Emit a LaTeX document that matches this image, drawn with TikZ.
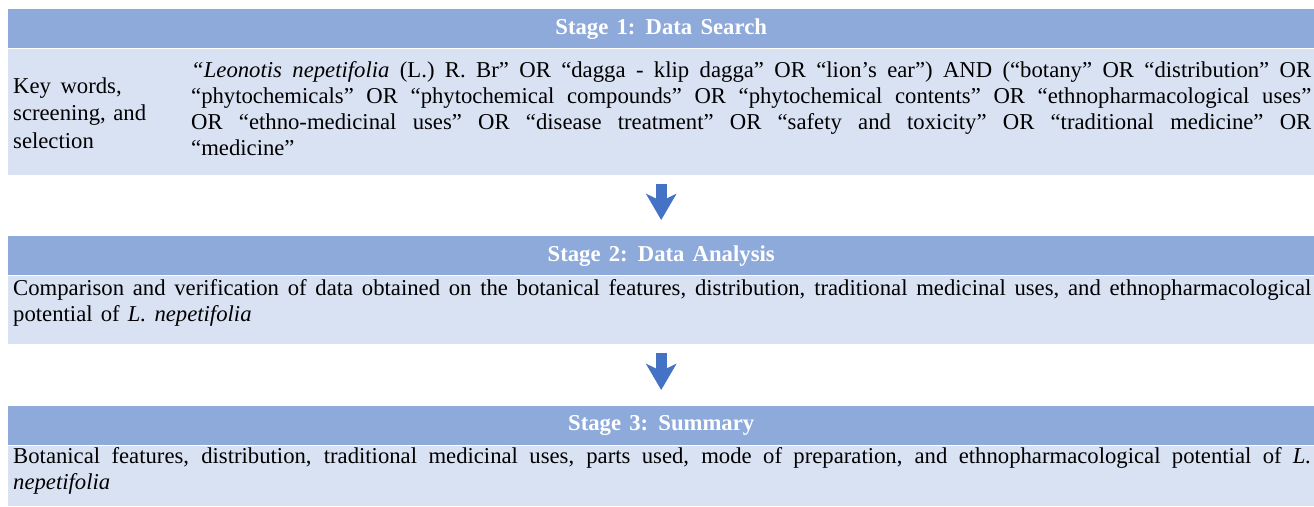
\documentclass[tikz,border=0pt]{standalone}
\usepackage{fontspec}
\setmainfont{Liberation Serif}[WordSpace={1.45,1,2.2}]
\newfontfamily\headfont{Liberation Serif}[WordSpace=1.45]
\usetikzlibrary{arrows.meta,positioning}
\definecolor{headblue}{HTML}{8EAADB}
\definecolor{bodyblue}{HTML}{D9E2F3}
\definecolor{arrowblue}{HTML}{4472C4}

\begin{document}
\begin{tikzpicture}[x=1pt, y=-1pt,
    stagebar/.style={fill=headblue, minimum width=1306pt, minimum height=39pt, inner sep=0pt, anchor=north west, text=white, font=\headfont\bfseries\fontsize{22.7}{26}\selectfont},
    cell/.style={fill=bodyblue, minimum width=1306pt, inner sep=0pt, anchor=north},
    txt/.style={inner sep=0pt, anchor=base west, align=justify, font=\fontsize{22.7}{26}\selectfont},
    flow/.style={line width=11pt, arrowblue, -{Stealth[length=26pt, width=30pt, inset=7pt]}, shorten <=9pt, shorten >=16pt}
  ]
    \useasboundingbox (0,0) rectangle (1314,506);

    % stage 1
    \node[stagebar] (h1) at (8,9) {Stage 1: Data Search};
    \node[cell, minimum height=126pt, below=0pt of h1] (b1) {};
    \node[txt, text width=145pt, align=left, font=\fontsize{22.7}{27.5}\selectfont] (kw) at (13,93)
      {Key\hspace{2pt} words,\\ screening, and\\ selection};
    \node[txt, text width=1120pt] (kq) at (191,77)
      {\textit{“Leonotis nepetifolia} (L.) R. Br” OR “dagga - klip dagga” OR “lion’s ear”) AND (“botany” OR “distribution” OR\linebreak
       “phytochemicals” OR “phytochemical compounds” OR “phytochemical contents” OR “ethnopharmacological uses”\linebreak
       OR “ethno-medicinal uses” OR “disease treatment” OR “safety and toxicity” OR “traditional medicine” OR\linebreak
       “medicine”};

    % stage 2
    \node[stagebar] (h2) at (8,236) {Stage 2: Data Analysis};
    \node[cell, minimum height=68pt, below=0pt of h2] (b2) {};
    \node[txt, text width=1298pt] (cv) at (13,295)
      {Comparison and verification of data obtained on the botanical features, distribution, traditional medicinal uses, and ethnopharmacological\linebreak
       potential of \textit{L. nepetifolia}};

    % stage 3
    \node[stagebar] (h3) at (8,406) {Stage 3: Summary};
    \node[cell, minimum height=60pt, below=0pt of h3] (b3) {};
    \node[txt, text width=1298pt] (bf) at (13,463)
      {Botanical features, distribution, traditional medicinal uses, parts used, mode of preparation, and ethnopharmacological potential of \textit{L.}\linebreak
       \textit{nepetifolia}};

    \draw[flow] (b1.south) -- (h2.north);
    \draw[flow] (b2.south) -- (h3.north);
  \end{tikzpicture}
\end{document}
